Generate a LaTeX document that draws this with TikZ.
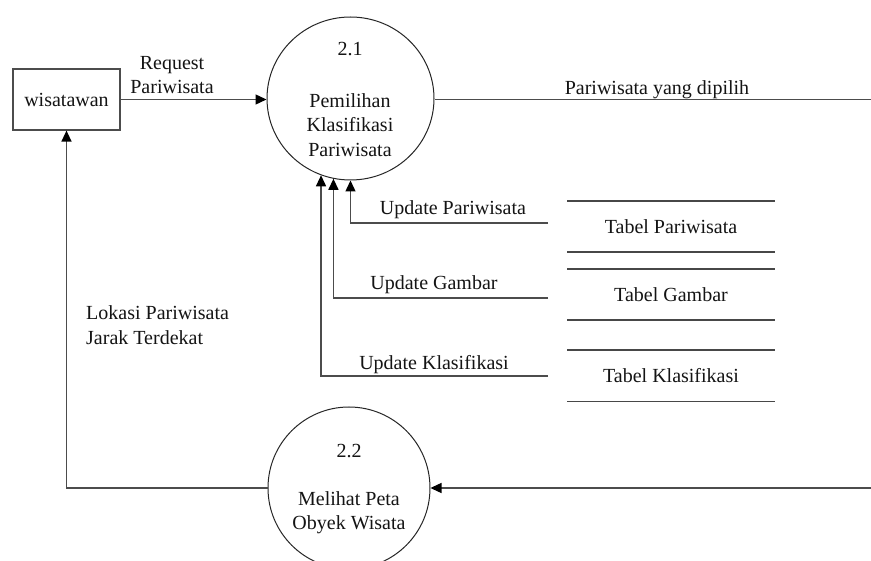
\documentclass[tikz,border=0pt]{standalone}
\usepackage{fontspec}
\setmainfont{Liberation Serif}
\usetikzlibrary{arrows.meta,shapes.geometric}
\begin{document}
\begin{tikzpicture}[x=1pt,y=-1pt,
  font=\fontsize{20}{24.5}\selectfont,
  flow/.style={draw=black!70, line width=1.4pt},
  arr/.style={flow, -{Triangle[length=11pt,width=10pt,color=black]}},
  lbl/.style={inner sep=0pt, text=black!92, text height=14pt, text depth=4pt},
  mlbl/.style={inner sep=0pt, text=black!92, align=center},
  proc/.style={ellipse, draw=black!85, line width=1pt, inner sep=0pt},
  entity/.style={draw=black!70, line width=1.2pt, minimum width=107pt,
    minimum height=61pt, inner sep=0pt, text=black!92},
  store/.style={minimum width=207pt, minimum height=51pt, inner sep=0pt,
    text=black!92},
  storeline/.style={draw=black!72, line width=1.6pt}
]
\fill[white] (0,0) rectangle (871,561);
\useasboundingbox (0,0) rectangle (871,561);

% external entity
\node[entity] (w) at (66.5,99.5) {wisatawan};

% processes
\node[proc, minimum width=167pt, minimum height=163pt] (p21) at (350.5,98.5) {};
\node[lbl] (n21) at (350,51) {2.1};
\node[mlbl] (t21) at (350,125) {Pemilihan\\Klasifikasi\\Pariwisata};

\node[proc, minimum width=162pt, minimum height=162pt] (p22) at (349,488) {};
\node[lbl] (n22) at (349,452) {2.2};
\node[mlbl] (t22) at (349,512.5) {Melihat Peta\\Obyek Wisata};

% data stores
\node[store] (s1) at (671,226.5) {Tabel Pariwisata};
\node[store] (s2) at (671,294.5) {Tabel Gambar};
\node[store] (s3) at (671,376) {Tabel Klasifikasi};
\foreach \s in {s1,s2,s3}{
  \draw[storeline] (\s.north west) -- (\s.north east);
  \draw[storeline] (\s.south west) -- (\s.south east);
}

% free ends of flows
\coordinate (outsel) at (871,99.5);
\coordinate (inmap) at (871,488);
\coordinate (u1) at (548,223);
\coordinate (u2) at (548,298);
\coordinate (u3) at (548,376);

% flows
\draw[arr] (w.east) -- (w.east -| p21.west);
\node[mlbl] (lreq) at (172,75) {Request\\Pariwisata};

\draw[flow] (p21.east |- outsel) -- (outsel);
\node[lbl] (lsel) at (657,90) {Pariwisata yang dipilih};

\draw[arr] (u1) -| (p21.-90);
\draw[arr] (u2) -| (p21.-102);
\draw[arr] (u3) -| (p21.-111);
\node[lbl] (lu1) at (453,210) {Update Pariwisata};
\node[lbl] (lu2) at (434,285) {Update Gambar};
\node[lbl] (lu3) at (434,365) {Update Klasifikasi};

\draw[arr] (inmap) -- (p22.east);
\draw[arr] (p22.west) -| (w.south);
\node[mlbl, align=left, anchor=west] (lok) at (86,325) {Lokasi Pariwisata\\Jarak Terdekat};
\end{tikzpicture}
\end{document}
